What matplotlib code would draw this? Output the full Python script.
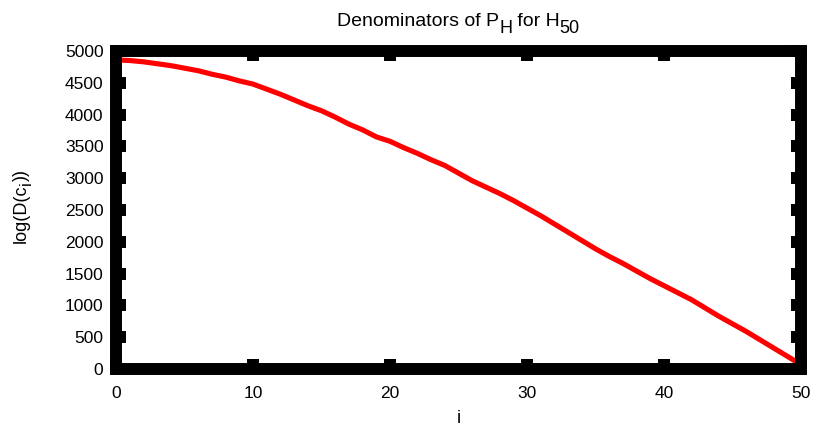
import matplotlib
matplotlib.use("Agg")
import matplotlib.pyplot as plt
from matplotlib.transforms import IdentityTransform

plt.rcParams['font.family'] = ['Liberation Sans', 'DejaVu Sans']

# index i and log of the denominator of each coefficient
i_vals = list(range(51))
log_den = [4860, 4850, 4830, 4800, 4770, 4730, 4690, 4635, 4590, 4530,
           4480, 4400, 4320, 4230, 4140, 4060, 3960, 3850, 3760, 3650,
           3580, 3480, 3390, 3290, 3200, 3080, 2960, 2860, 2760, 2650,
           2530, 2410, 2280, 2150, 2020, 1890, 1770, 1660, 1540, 1420,
           1310, 1200, 1090, 960, 830, 710, 590, 460, 330, 200,
           70]

x_ticks = [0, 10, 20, 30, 40, 50]
y_ticks = list(range(0, 5001, 500))

# text runs: (string, font size, baseline drop in pixels)
title_runs = [("Denominators of P", 14, 0), ("H", 13, 7), (" for H", 14, 0), ("50", 13, 7)]
ylabel_runs = [("log(D(c", 13, 0), ("i", 12, 5), ("))", 13, 0)]

W, H = 816, 429
fig = plt.figure(figsize=(W / 100, H / 100), dpi=100)
ax = fig.add_axes([116 / W, 1 - 369 / H, (801 - 116) / W, (369 - 51) / H])

ax.plot(i_vals, log_den, color='#ff0000', lw=3.7, solid_capstyle='butt', zorder=1)

ax.set_xlim(0, 50)
ax.set_ylim(0, 5000)
ax.set_xticks(x_ticks)
ax.set_yticks(y_ticks)

lw = 8.6
for sp in ax.spines.values():
    sp.set_linewidth(lw)
    sp.set_capstyle('projecting')
    sp.set_zorder(3)

ax.tick_params(direction='in', length=7.5, width=lw, top=True, right=True,
               labelsize=12.5, color='black')
ax.tick_params(axis='x', pad=12)
ax.tick_params(axis='y', pad=9)

ax.set_xlabel('i', fontsize=13, labelpad=7)

renderer = fig.canvas.get_renderer()


def run_widths(runs, rotation):
    sizes = []
    for s, fs, _ in runs:
        t = fig.text(0, 0, s, fontsize=fs, rotation=rotation, rotation_mode='anchor',
                     ha='left', va='baseline', transform=IdentityTransform())
        bb = t.get_window_extent(renderer)
        sizes.append(bb.width if rotation == 0 else bb.height)
        t.remove()
    return sizes


def draw_runs(runs, center, base, rotation):
    lens = run_widths(runs, rotation)
    total = sum(lens)
    pos = center - total / 2
    for (s, fs, drop), L in zip(runs, lens):
        if rotation == 0:
            x, y = pos, base - drop
        else:
            x, y = base + drop, pos
        fig.text(x, y, s, fontsize=fs, rotation=rotation, rotation_mode='anchor',
                 ha='left', va='baseline', transform=IdentityTransform())
        pos += L


# title above the axes, ylabel to the left (display pixels, origin bottom-left)
draw_runs(title_runs, (116 + 801) / 2, H - 26, 0)
draw_runs(ylabel_runs, H - 206, 26, 90)

fig.savefig('out.png', dpi=100)
